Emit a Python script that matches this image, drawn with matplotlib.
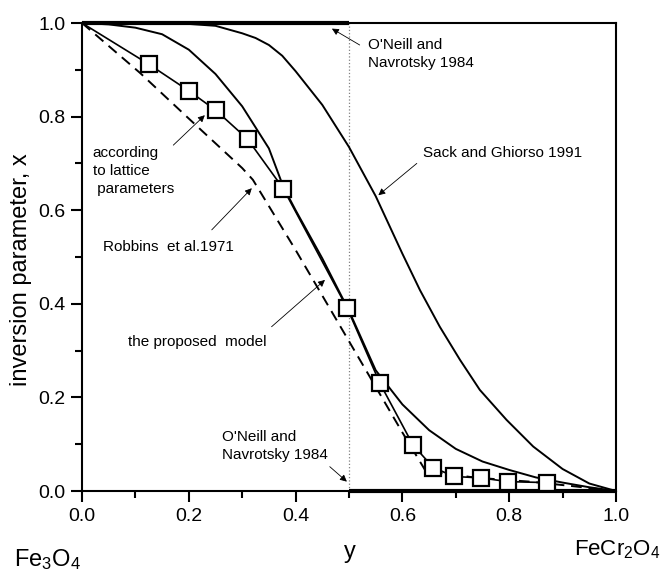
import numpy as np
import matplotlib
matplotlib.use('Agg')
import matplotlib.pyplot as plt

plt.rcParams['font.family'] = ['Liberation Sans', 'DejaVu Sans']
plt.rcParams['mathtext.fontset'] = 'custom'
plt.rcParams['mathtext.rm'] = 'Liberation Sans'
plt.rcParams['mathtext.it'] = 'Liberation Sans:italic'

#data
#squares: according to lattice parameters
lat_y = [0.0, 0.125, 0.2, 0.25, 0.31, 0.377, 0.497, 0.558, 0.62, 0.658, 0.697, 0.747, 0.798, 0.87]
lat_x = [1.0, 0.912, 0.855, 0.814, 0.752, 0.646, 0.390, 0.230, 0.098, 0.050, 0.031, 0.028, 0.020, 0.018]

#the proposed model
mod_y = [0.0, 0.05, 0.1, 0.15, 0.2, 0.25, 0.3, 0.35, 0.377, 0.4, 0.45, 0.5, 0.55, 0.6, 0.65, 0.7, 0.75, 0.8, 0.85, 0.9, 0.95, 1.0]
mod_x = [1.0, 0.997, 0.99, 0.976, 0.943, 0.891, 0.822, 0.732, 0.650, 0.600, 0.497, 0.385, 0.258, 0.185, 0.130, 0.090, 0.063, 0.045, 0.029, 0.018, 0.008, 0.0]

#Sack and Ghiorso 1991
sg_y = [0.0, 0.1, 0.2, 0.25, 0.3, 0.325, 0.35, 0.375, 0.4, 0.45, 0.5, 0.55, 0.6, 0.633, 0.67, 0.708, 0.745, 0.795, 0.845, 0.9, 0.95, 1.0]
sg_x = [1.0, 1.0, 0.998, 0.994, 0.978, 0.968, 0.953, 0.930, 0.897, 0.825, 0.735, 0.630, 0.507, 0.429, 0.351, 0.280, 0.216, 0.152, 0.095, 0.047, 0.016, 0.0]

#Robbins et al. 1971
rob_y = [0.0, 0.109, 0.196, 0.3, 0.32, 0.4, 0.5, 0.6, 0.645, 0.677, 0.727, 0.777, 0.839, 0.914, 1.0]
rob_x = [1.0, 0.893, 0.800, 0.69, 0.665, 0.515, 0.320, 0.125, 0.040, 0.038, 0.030, 0.025, 0.020, 0.011, 0.0]

#O'Neill and Navrotsky 1984
on_top_y = [0.0, 0.5]
on_top_x = [1.0, 1.0]
on_bot_y = [0.5, 1.0]
on_bot_x = [0.0, 0.0]

ticks = [0.0, 0.2, 0.4, 0.6, 0.8, 1.0]
tick_labels = ['0.0', '0.2', '0.4', '0.6', '0.8', '1.0']

fig = plt.figure(figsize=(6.64, 5.73), dpi=100)
ax = fig.add_axes([82/664, 82/573, 534/664, 468/573])

ax.axvline(0.5, color='gray', ls=':', lw=0.9)
ax.plot(on_top_y, on_top_x, c='black', lw=3, clip_on=False, solid_capstyle='butt')
ax.plot(on_bot_y, on_bot_x, c='black', lw=3, clip_on=False, solid_capstyle='butt')
ax.plot(sg_y, sg_x, c='black', lw=1.4)
ax.plot(mod_y, mod_x, c='black', lw=1.4)
ax.plot(rob_y, rob_x, c='black', lw=1.4, ls=(0, (5.5, 3.5)))
ax.plot(lat_y, lat_x, c='black', lw=1.2, marker='s', ms=11, mfc='white', mec='black', mew=1.6,
        markevery=list(range(1, len(lat_y))))

ax.set_xlim(0, 1)
ax.set_ylim(0, 1)
ax.set_xticks(ticks)
ax.set_xticklabels(tick_labels)
ax.set_yticks(ticks)
ax.set_yticklabels(tick_labels)
ax.set_xticks(np.arange(0.1, 1.0, 0.2), minor=True)
ax.set_yticks(np.arange(0.1, 1.0, 0.2), minor=True)
ax.tick_params(which='major', direction='out', length=8, width=1.5, labelsize=14, pad=4)
ax.tick_params(which='minor', direction='out', length=5, width=1.5)
for s in ax.spines.values():
    s.set_linewidth(1.5)
ax.set_ylabel('inversion parameter, x', fontsize=17)
ax.yaxis.set_label_coords(-0.094, 0.472)

#annotations
fs = 11
ax.text(0.535, 0.934, "O'Neill and\nNavrotsky 1984", fontsize=fs, va='center', ha='left', linespacing=1.4)
ax.text(0.263, 0.096, "O'Neill and\nNavrotsky 1984", fontsize=fs, va='center', ha='left', linespacing=1.4)
ax.text(0.02, 0.684, "according\nto lattice\n parameters", fontsize=fs, va='center', ha='left', linespacing=1.35)
ax.text(0.04, 0.522, "Robbins  et al.1971", fontsize=fs, va='center', ha='left')
ax.text(0.639, 0.722, "Sack and Ghiorso 1991", fontsize=fs, va='center', ha='left')
ax.text(0.086, 0.319, "the proposed  model", fontsize=fs, va='center', ha='left')

arrows = [((0.52, 0.953), (0.468, 0.988)),
          ((0.627, 0.700), (0.555, 0.632)),
          ((0.171, 0.739), (0.230, 0.803)),
          ((0.243, 0.558), (0.318, 0.647)),
          ((0.355, 0.351), (0.455, 0.451)),
          ((0.464, 0.052), (0.496, 0.020))]
for start, tip in arrows:
    ax.annotate('', xy=tip, xytext=start,
                arrowprops=dict(arrowstyle='-|>', color='black', lw=0.6, mutation_scale=10,
                                shrinkA=0, shrinkB=0))

fig.text(350/664, 1 - 552/573, 'y', fontsize=17, ha='center', va='center')
fig.text(14/664, 1 - 560/573, r'Fe$_3$O$_4$', fontsize=17, ha='left', va='center')
fig.text(574/664, 1 - 550/573, r'FeCr$_2$O$_4$', fontsize=16, ha='left', va='center')

fig.savefig('out.png', dpi=100)
